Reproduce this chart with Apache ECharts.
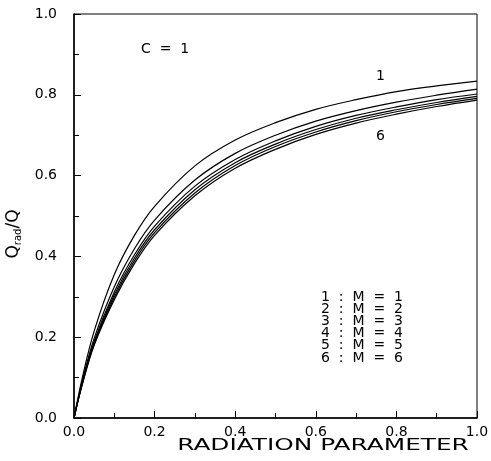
<!DOCTYPE html>
<html>
<head>
<meta charset="utf-8">
<script src="https://cdn.jsdelivr.net/npm/echarts@6/dist/echarts.min.js"></script>
<style>html,body{margin:0;padding:0;background:#fff}#c{width:491px;height:461px}</style>
</head>
<body>
<div id="c"></div>
<script>
var xValues = [0, 0.02, 0.05, 0.1, 0.15, 0.2, 0.3, 0.4, 0.5, 0.6, 0.7, 0.8, 0.9, 1.0];
var curve1 = [0, 0.097, 0.215, 0.355, 0.452, 0.524, 0.624, 0.688, 0.731, 0.764, 0.788, 0.808, 0.822, 0.834];
var curve2 = [0, 0.089, 0.197, 0.325, 0.419, 0.490, 0.589, 0.655, 0.700, 0.735, 0.761, 0.782, 0.799, 0.814];
var curve3 = [0, 0.086, 0.190, 0.312, 0.404, 0.475, 0.574, 0.640, 0.686, 0.722, 0.749, 0.770, 0.788, 0.802];
var curve4 = [0, 0.084, 0.186, 0.305, 0.396, 0.466, 0.565, 0.632, 0.678, 0.714, 0.742, 0.763, 0.781, 0.796];
var curve5 = [0, 0.082, 0.183, 0.299, 0.389, 0.459, 0.557, 0.625, 0.672, 0.708, 0.736, 0.758, 0.776, 0.791];
var curve6 = [0, 0.081, 0.180, 0.293, 0.382, 0.452, 0.550, 0.618, 0.665, 0.702, 0.730, 0.752, 0.771, 0.787];
var curves = [curve1, curve2, curve3, curve4, curve5, curve6];
var legendLines = ['1  :  M  =  1', '2  :  M  =  2', '3  :  M  =  3', '4  :  M  =  4', '5  :  M  =  5', '6  :  M  =  6'];
var xTitle = 'RADIATION PARAMETER';

var FONT = 'DejaVu Sans';
var chart = echarts.init(document.getElementById('c'), null, {renderer: 'canvas'});

function pairs(ys) { return xValues.map(function (x, i) { return [x, ys[i]]; }); }

var series = curves.map(function (c, i) {
  return {
    type: 'line', name: String(i + 1), data: pairs(c),
    showSymbol: false, symbol: 'none', smooth: 0.35,
    lineStyle: {color: '#000', width: 1.2}, silent: true, z: 3
  };
});

function axisCommon() {
  return {
    type: 'value', min: 0, max: 1, interval: 0.2,
    axisLine: {show: true, lineStyle: {color: '#000', width: 1.5}},
    axisTick: {show: true, inside: true, length: 7, lineStyle: {color: '#000', width: 1}},
    minorTick: {show: true, splitNumber: 2, length: 5, lineStyle: {color: '#000', width: 1}},
    splitLine: {show: false},
    axisLabel: {color: '#000', fontFamily: FONT, fontSize: 14, formatter: function (v) { return v.toFixed(1); }}
  };
}

var xAxis = axisCommon();
xAxis.axisLabel.margin = 7;

var yAxis = axisCommon();
yAxis.axisLabel.margin = 17;
yAxis.name = '{a|Q}{b|rad}{a|/Q}';
yAxis.nameLocation = 'middle';
yAxis.nameGap = 41;
yAxis.nameRotate = 90;
yAxis.nameTextStyle = {
  color: '#000', fontFamily: FONT, padding: [0, 36, 0, 0],
  rich: {
    a: {fontSize: 17, fontFamily: FONT, color: '#000', lineHeight: 20},
    b: {fontSize: 10, fontFamily: FONT, color: '#000', lineHeight: 10, verticalAlign: 'bottom'}
  }
};

var graphics = [
  {type: 'text', x: 323, y: 438, scaleX: 1.55, style: {text: xTitle, font: '16px "DejaVu Sans"', fill: '#000', textAlign: 'center', textVerticalAlign: 'top'}},
  {type: 'text', left: 141, top: 42, style: {text: 'C  =  1', font: '14px "DejaVu Sans"', fill: '#000'}},
  {type: 'text', left: 376, top: 69, style: {text: '1', font: '14px "DejaVu Sans"', fill: '#000'}},
  {type: 'text', left: 376, top: 129, style: {text: '6', font: '14px "DejaVu Sans"', fill: '#000'}},
  {type: 'text', left: 321, top: 290, style: {text: legendLines.join('\n'), font: '14px "DejaVu Sans"', lineHeight: 12.2, fill: '#000'}}
];

chart.setOption({
  animation: false,
  backgroundColor: '#fff',
  grid: {left: 74, right: 14, top: 14, bottom: 43, outerBoundsMode: 'none', containLabel: false, show: true, borderColor: '#000', borderWidth: 1, backgroundColor: 'transparent'},
  xAxis: xAxis,
  yAxis: yAxis,
  series: series,
  graphic: graphics
});
</script>
</body>
</html>
